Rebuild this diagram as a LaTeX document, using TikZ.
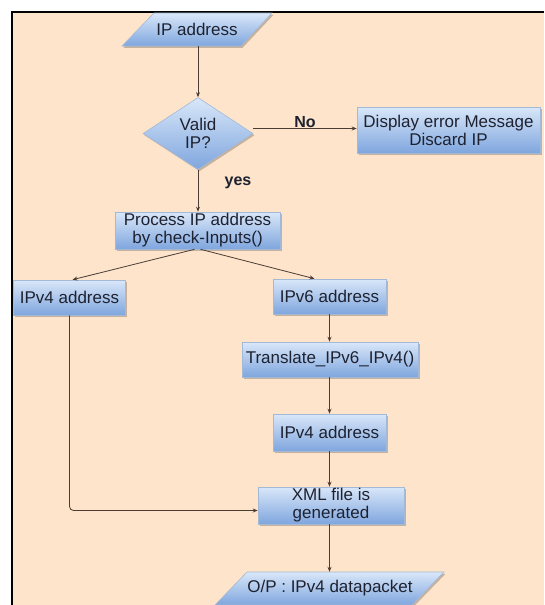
\documentclass[tikz,border=0pt]{standalone}
\usepackage{fontspec}
\setmainfont{Liberation Sans}
\usetikzlibrary{shapes.geometric,arrows.meta,shadows,calc}
\definecolor{peach}{HTML}{FDE4CB}
\definecolor{btop}{HTML}{D9E7F9}
\definecolor{bbot}{HTML}{7FA6DE}
\definecolor{bdraw}{HTML}{A3B9D6}
\definecolor{ink}{HTML}{1E2230}
\definecolor{wire}{HTML}{4B3C34}
\tikzset{
  shade/.style={top color=btop, bottom color=bbot, draw=bdraw, line width=0.6pt,
    drop shadow={shadow xshift=1.5pt, shadow yshift=-1.8pt, fill=black, opacity=0.22}},
  txt/.style={text=ink, font=\fontsize{17}{18}\selectfont, align=center},
  box/.style={shade, txt, rectangle, inner sep=0pt},
  dec/.style={shade, txt, diamond, aspect=1.5, inner sep=0pt},
  lab/.style={text=ink, font=\bfseries\fontsize{16}{18}\selectfont},
  conn/.style={draw=wire, line width=0.8pt, -{Stealth[length=5pt,width=4pt]}},
}
\begin{document}
\begin{tikzpicture}[x=1pt,y=-1pt]
\useasboundingbox (0,0) rectangle (544,605);
\fill[white] (0,0) rectangle (544,605);
\fill[peach] (12,12) rectangle (544,605);
\draw[black, line width=2pt] (12,605) -- (12,12) -- (544,12);

% input parallelogram
\path[shade] (154,13) -- (272,13) -- (241,46) -- (122,46) -- cycle;
\node[txt, minimum height=33pt, inner sep=0pt] (ip) at (197,29.5) {IP address};

% decision
\node[dec, minimum width=110pt, minimum height=72pt] (valid) at (198,133.5) {Valid\\IP?};

% error box
\node[box, minimum width=183pt, minimum height=46pt] (disp) at (448.5,130) {Display error Message\\Discard IP};

\node[box, minimum width=165pt, minimum height=37pt] (proc) at (197.5,230.5) {Process IP address\\by check-Inputs()};
\node[box, minimum width=112pt, minimum height=35pt] (v4a) at (69.5,297.5) {IPv4 address};
\node[box, minimum width=113pt, minimum height=35pt] (v6) at (329.5,296.5) {IPv6 address};
\node[box, minimum width=176pt, minimum height=35pt] (tr) at (330,359.5) {Translate\_IPv6\_IPv4()};
\node[box, minimum width=113pt, minimum height=37pt] (v4b) at (329.5,432.5) {IPv4 address};
\node[box, minimum width=146pt, minimum height=37pt] (xml) at (331,505.5) {XML file is\\generated};

% output parallelogram
\path[shade] (247,572) -- (444,572) -- (412,605) -- (215,605) -- cycle;
\node[txt, minimum height=33pt, inner sep=0pt] (op) at (330,588.5) {O/P : IPv4 datapacket};

% labels
\node[lab] (no) at (305,122) {No};
\node[lab] (yes) at (238,183) {yes};

% helper coordinates
\coordinate (ne) at ($(valid.east)+(0,-5)$);
\coordinate (ps1) at ($(proc.south)+(-3,0)$);
\coordinate (ps2) at ($(proc.south)+(3,0)$);
\coordinate (v4in) at ($(v4a.north)+(3,0)$);
\coordinate (v6in) at ($(v6.north)+(-15,0)$);
\coordinate (xin) at ($(xml.west)+(0,5)$);

% connectors
\draw[conn] (ip.south -| valid.north) -- (valid.north);
\draw[conn] (ne) -- (ne -| disp.west);
\draw[conn] (valid.south) -- (valid.south |- proc.north);
\draw[conn] (ps1) -- (v4in);
\draw[conn] (ps2) -- (v6in);
\draw[conn] (v6.south) -- (v6.south |- tr.north);
\draw[conn] (v6.south |- tr.south) -- (v6.south |- v4b.north);
\draw[conn] (v4b.south) -- (v4b.south |- xml.north);
\draw[conn] (v4b.south |- xml.south) -- (v4b.south |- op.north);
\draw[conn, rounded corners=4pt] (v4a.south) |- (xin);
\end{tikzpicture}
\end{document}
